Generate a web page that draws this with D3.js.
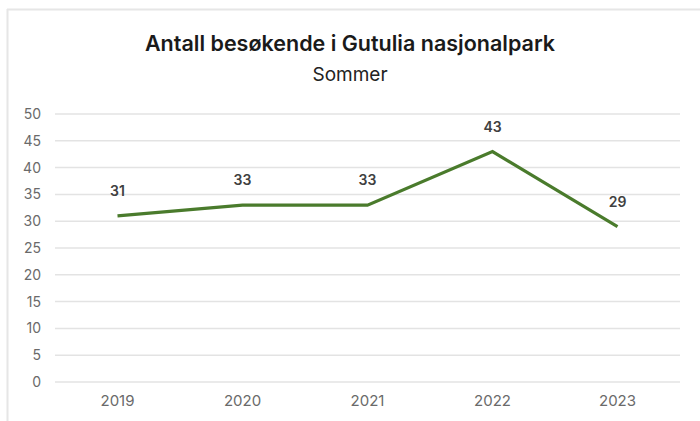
<!DOCTYPE html>
<html>
<head>
<meta charset="utf-8">
<script src="https://cdn.jsdelivr.net/npm/d3@7"></script>
<style>
  html, body { margin: 0; padding: 0; background: #fff; }
  svg { display: block; font-family: Inter, "Noto Sans", sans-serif; }
</style>
</head>
<body>
<svg id="chart" width="700" height="421"></svg>
<script>
const years = ["2019", "2020", "2021", "2022", "2023"];
const visitors = [31, 33, 33, 43, 29];
const yTicks = [0, 5, 10, 15, 20, 25, 30, 35, 40, 45, 50];
const title = "Antall besøkende i Gutulia nasjonalpark";
const subtitle = "Sommer";

const svg = d3.select("#chart");
const W = 700, H = 421;
const m = { left: 55, right: 20, top: 114, bottom: 39 };

// faint frame
svg.append("line").attr("x1", 7.5).attr("x2", 7.5).attr("y1", 9).attr("y2", H)
  .attr("stroke", "#e6e6e6").attr("stroke-width", 2);
svg.append("line").attr("x1", 7).attr("x2", W).attr("y1", 9.5).attr("y2", 9.5)
  .attr("stroke", "#e6e6e6").attr("stroke-width", 2);

const x = d3.scaleBand().domain(years).range([m.left, W - m.right]);
const y = d3.scaleLinear().domain([0, 50]).range([H - m.bottom, m.top]);

// gridlines
svg.append("g").selectAll("line").data(yTicks).join("line")
  .attr("x1", m.left).attr("x2", W - m.right)
  .attr("y1", d => y(d)).attr("y2", d => y(d))
  .attr("stroke", "#e3e3e3").attr("stroke-width", 1.5);

// y axis
const yAxis = svg.append("g").attr("transform", `translate(${m.left},0)`)
  .call(d3.axisLeft(y).tickValues(yTicks).tickSize(0).tickPadding(14));
yAxis.select(".domain").remove();
yAxis.selectAll("text").attr("font-size", 14).attr("fill", "#6a6a6a")
  .attr("font-family", "Inter, 'Noto Sans', sans-serif");

// x axis
const xAxis = svg.append("g").attr("transform", `translate(0,${H - m.bottom})`)
  .call(d3.axisBottom(x).tickSize(0).tickPadding(13));
xAxis.select(".domain").remove();
xAxis.selectAll("text").attr("font-size", 15).attr("fill", "#6a6a6a")
  .attr("font-family", "Inter, 'Noto Sans', sans-serif");

// line
const cx = d => x(d) + x.bandwidth() / 2;
const pts = years.map((yr, i) => [cx(yr), y(visitors[i])]);
svg.append("path").datum(pts)
  .attr("d", d3.line())
  .attr("fill", "none").attr("stroke", "#4a7b2c").attr("stroke-width", 3.2)
  .attr("stroke-linejoin", "miter");

// data labels
svg.append("g").selectAll("text").data(visitors).join("text")
  .attr("x", (d, i) => cx(years[i]))
  .attr("y", d => y(d) - 20)
  .attr("text-anchor", "middle")
  .attr("font-size", 14).attr("font-weight", 600).attr("fill", "#404040")
  .text(d => d);

// titles
svg.append("text").attr("x", 350).attr("y", 51).attr("text-anchor", "middle")
  .attr("font-size", 21.5).attr("font-weight", 600).attr("fill", "#1a1a1a")
  .text(title);
svg.append("text").attr("x", 350).attr("y", 81).attr("text-anchor", "middle")
  .attr("font-size", 19).attr("fill", "#222")
  .text(subtitle);
</script>
</body>
</html>
